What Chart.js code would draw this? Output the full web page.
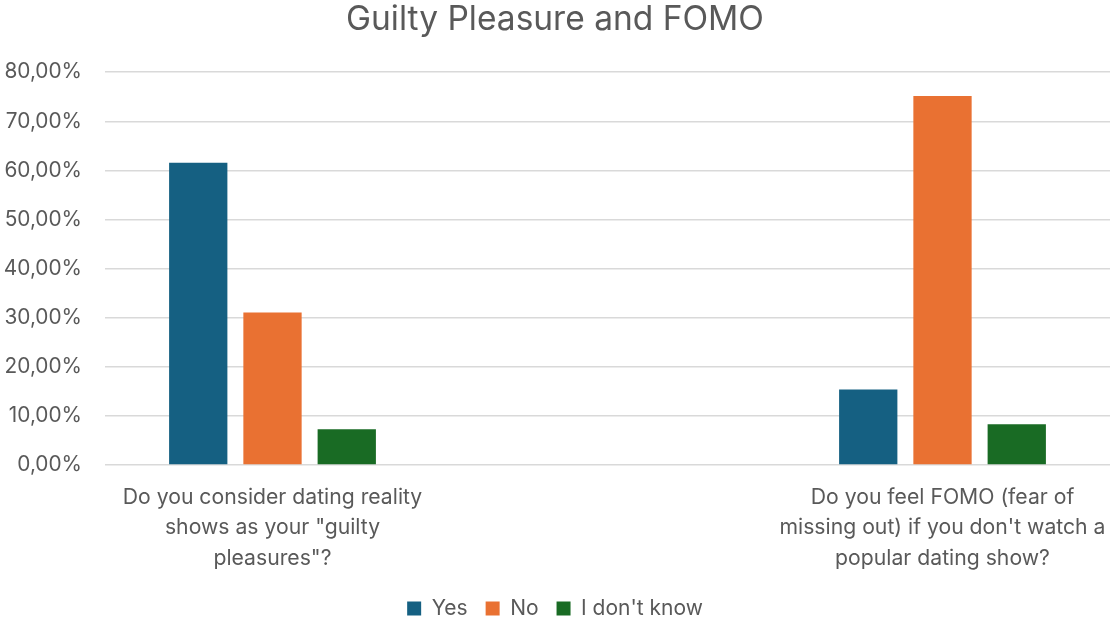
<!DOCTYPE html>
<html>
<head>
<meta charset="utf-8">
<script src="https://cdn.jsdelivr.net/npm/chart.js@4"></script>
<style>
  html, body { margin: 0; padding: 0; background: #ffffff; }
  #wrap { width: 1110px; height: 617px; }
</style>
</head>
<body>
<div id="wrap"><canvas id="c" width="1110" height="617"></canvas></div>
<script>
// Survey questions (middle slot left empty as spacing between the two groups)
const categories = [
  ['Do you consider dating reality', 'shows as your "guilty', 'pleasures"?'],
  '',
  ['Do you feel FOMO (fear of', "missing out) if you don't watch a", 'popular dating show?']
];
const seriesNames = ['Yes', 'No', "I don't know"];
const yesValues = [61.54, null, 15.38];
const noValues = [31.05, null, 75.16];
const dontKnowValues = [7.29, null, 8.30];
const yTicks = [0, 10, 20, 30, 40, 50, 60, 70, 80];

const FONT = 'Inter, "Open Sans", sans-serif';
const TEXT = '#595959';

new Chart(document.getElementById('c'), {
  type: 'bar',
  data: {
    labels: categories,
    datasets: [
      { label: seriesNames[0], data: yesValues, backgroundColor: '#156082' },
      { label: seriesNames[1], data: noValues, backgroundColor: '#E97132' },
      { label: seriesNames[2], data: dontKnowValues, backgroundColor: '#196B24' }
    ]
  },
  options: {
    responsive: false,
    animation: false,
    categoryPercentage: 0.665,
    barPercentage: 0.785,
    layout: { padding: { left: 0, right: 0, top: 0, bottom: -12 } },
    plugins: {
      tooltip: { enabled: false },
      title: {
        display: true,
        text: 'Guilty Pleasure and FOMO',
        color: TEXT,
        font: { family: FONT, size: 33.5, weight: 'normal' },
        padding: { top: 0, bottom: 32 }
      },
      legend: {
        position: 'bottom',
        labels: {
          color: TEXT,
          font: { family: FONT, size: 21 },
          boxWidth: 14,
          boxHeight: 14,
          padding: 18
        }
      }
    },
    scales: {
      x: {
        grid: { display: false },
        border: { display: false },
        ticks: {
          color: TEXT,
          font: { family: FONT, size: 21.2, lineHeight: 1.44 },
          padding: 9,
          maxRotation: 0,
          autoSkip: false
        },
        afterFit: (scale) => {
          scale.height = 115;
          // plot runs to the right edge; wide labels may overhang
          scale.paddingLeft = 0;
          scale.paddingRight = 0;
        }
      },
      y: {
        min: 0,
        max: 80,
        afterBuildTicks: (scale) => { scale.ticks = yTicks.map(v => ({ value: v })); },
        grid: { color: '#d9d9d9', lineWidth: 1.5, drawTicks: false },
        border: { display: false },
        ticks: {
          color: TEXT,
          font: { family: FONT, size: 20.8 },
          padding: 23,
          callback: (v) => v.toFixed(2).replace('.', ',') + '%'
        },
        afterFit: (scale) => { scale.width = 105; }
      }
    }
  }
});
</script>
</body>
</html>
